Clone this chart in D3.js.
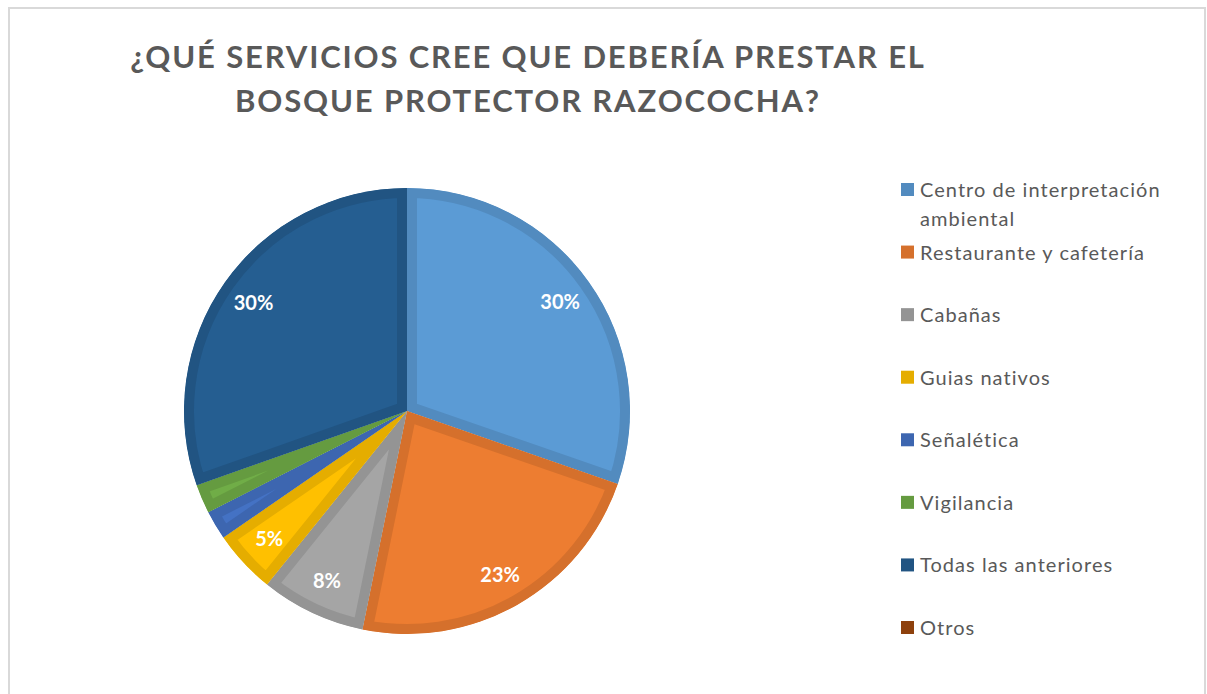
<!DOCTYPE html>
<html>
<head>
<meta charset="utf-8">
<script src="https://cdn.jsdelivr.net/npm/d3@7"></script>
<style>
  body { margin: 0; background: #fff; }
  svg { display: block; font-family: Lato, "Open Sans", sans-serif; }
</style>
</head>
<body>
<svg id="chart" width="1207" height="694"></svg>
<script>
// data (share of answers, %)
var categories = ["Centro de interpretación ambiental", "Restaurante y cafetería", "Cabañas",
                  "Guias nativos", "Señalética", "Vigilancia", "Todas las anteriores", "Otros"];
var values = [30.3, 22.9, 7.6, 4.6, 2.1, 2.1, 30.4, 0];
var colors = ["#5B9BD5", "#ED7D31", "#A5A5A5", "#FFC000", "#4472C4", "#70AD47", "#255E91", "#9E480E"];
var titleLines = ["¿QUÉ SERVICIOS CREE QUE DEBERÍA PRESTAR EL", "BOSQUE PROTECTOR RAZOCOCHA?"];

var width = 1207, height = 694;
var svg = d3.select("#chart");

// frame
svg.append("rect")
    .attr("x", 9).attr("y", 8)
    .attr("width", 1196).attr("height", 700)
    .attr("fill", "none")
    .attr("stroke", "#d9d9d9")
    .attr("stroke-width", 2);

// title
var title = svg.append("g").attr("class", "title");
title.selectAll("text")
    .data(titleLines)
    .enter().append("text")
    .attr("x", 528)
    .attr("y", function(d, i) { return 68 + i * 44; })
    .attr("text-anchor", "middle")
    .attr("fill", "#595959")
    .attr("font-weight", "bold")
    .attr("font-size", 31)
    .attr("letter-spacing", 1.85)
    .text(function(d) { return d; });

// pie
var cx = 407, cy = 411, radius = 223;
var total = d3.sum(values);

var pie = d3.pie().sort(null).value(function(d) { return d; });
var arc = d3.arc().innerRadius(0).outerRadius(radius);
var labelArc = d3.arc().innerRadius(188).outerRadius(188);

var arcs = pie(values);

var g = svg.append("g").attr("transform", "translate(" + cx + "," + cy + ")");

var defs = svg.append("defs");
defs.selectAll("clipPath")
    .data(arcs)
    .enter().append("clipPath")
    .attr("id", function(d, i) { return "clip-" + i; })
    .append("path")
    .attr("d", arc);

g.selectAll("path.slice")
    .data(arcs)
    .enter().append("path")
    .attr("class", "slice")
    .attr("d", arc)
    .attr("fill", function(d, i) { return colors[i]; })
    .attr("stroke", function(d, i) { return d3.color(colors[i]).darker(0.3); })
    .attr("stroke-width", 20)
    .attr("stroke-linejoin", "miter")
    .attr("clip-path", function(d, i) { return "url(#clip-" + i + ")"; });

g.selectAll("text.pct")
    .data(arcs.filter(function(d) { return d.data / total >= 0.03; }))
    .enter().append("text")
    .attr("class", "pct")
    .attr("transform", function(d) { return "translate(" + labelArc.centroid(d) + ")"; })
    .attr("text-anchor", "middle")
    .attr("dy", "0.36em")
    .attr("fill", "#fff")
    .attr("font-weight", "bold")
    .attr("font-size", 20)
    .text(function(d) { return d3.format(".0%")(d.data / total); });

// legend
var ly = d3.scalePoint().domain(categories).range([190, 628]);
var legend = svg.append("g").attr("class", "legend");
var item = legend.selectAll("g")
    .data(categories)
    .enter().append("g")
    .attr("transform", function(d) { return "translate(901," + ly(d) + ")"; });

item.append("rect")
    .attr("x", 0).attr("y", -7)
    .attr("width", 13).attr("height", 13)
    .attr("fill", function(d, i) { return d3.color(colors[i]).darker(0.3); });

item.append("text")
    .attr("x", 19)
    .attr("fill", "#595959")
    .attr("font-size", 20)
    .attr("letter-spacing", 1.05)
    .each(function(d) {
        var t = d3.select(this);
        var lines = d == categories[0] ? ["Centro de interpretación", "ambiental"] : [d];
        lines.forEach(function(l, j) {
            t.append("tspan").attr("x", 19).attr("y", j * 29).attr("dy", "0.35em").text(l);
        });
    });
</script>
</body>
</html>
